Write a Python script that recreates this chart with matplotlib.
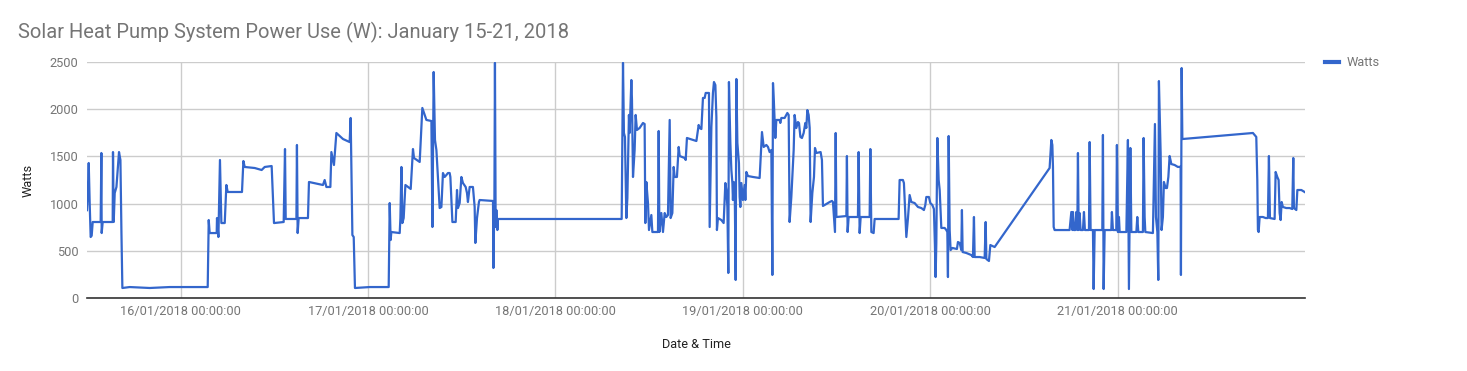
import pandas as pd
import matplotlib
matplotlib.use('Agg')
import matplotlib.pyplot as plt
import matplotlib.dates as mdates
from matplotlib.lines import Line2D

plt.rcParams['font.family'] = ['Roboto', 'DejaVu Sans']

# readings: hours after 15/01/2018 00:00 and power in watts
# 15/01 12:00 -> 17/01 02:40
day1_hours = [12.00, 12.09, 12.22, 12.35, 12.47, 12.60, 12.73, 13.75, 13.84, 13.88,
              14.01, 15.29, 15.33, 15.42, 15.55, 15.77, 16.10, 16.28, 16.41, 16.53,
              17.47, 20.03, 22.59, 26.43, 27.46, 27.59, 27.71, 28.61, 28.65, 28.83,
              29.03, 29.21, 29.64, 29.85, 30.02, 31.85, 32.03, 32.20, 33.48, 34.37,
              34.76, 35.65, 35.95, 37.19, 37.36, 37.45, 38.82, 38.89, 38.98, 39.11,
              40.30, 40.43, 42.22, 42.44, 42.66, 43.17, 43.30, 43.63, 43.94, 44.36,
              44.79, 45.64, 45.77, 45.99, 46.16, 46.32, 48.21, 50.64]
day1_watts = [930, 1090, 1430, 985, 646, 660, 805, 805, 1536, 688,
              805, 805, 1546, 805, 1112, 1176, 1546, 1462, 699, 106,
              116, 106, 116, 116, 116, 826, 688, 688, 847, 646,
              1462, 794, 794, 1197, 1123, 1123, 1451, 1388, 1377, 1356,
              1388, 1398, 794, 805, 1578, 837, 837, 1621, 688, 847,
              847, 1229, 1197, 1250, 1176, 1176, 1546, 1409, 1748, 1716,
              1684, 1652, 1907, 667, 646, 106, 116, 116]

# 17/01 -> 18/01 08:30
day2_hours = [50.77, 50.89, 50.98, 52.05, 52.14, 52.27, 52.39, 52.56, 52.78, 53.11,
              53.46, 53.75, 53.88, 54.61, 54.95, 55.25, 55.47, 56.11, 56.24, 56.40,
              56.57, 56.75, 57.17, 57.39, 57.59, 57.81, 58.03, 58.23, 58.45, 58.54,
              58.80, 59.22, 59.39, 59.51, 59.73, 59.95, 60.15, 60.50, 60.67, 60.79,
              61.01, 61.43, 61.65, 61.74, 61.95, 62.20, 62.29, 64.00, 64.05, 64.18,
              64.25, 64.34, 64.43, 64.56, 64.64, 80.48]
day2_watts = [1006, 614, 699, 688, 847, 1388, 794, 847, 1197, 1176,
              1155, 1578, 1483, 1441, 2013, 1939, 1886, 1875, 752, 2394,
              1674, 1568, 953, 964, 1324, 1282, 1303, 1324, 1324, 1282,
              805, 805, 1144, 953, 1006, 1282, 1218, 1176, 1112, 1017,
              1176, 1176, 964, 583, 847, 1017, 1038, 1028, 318, 1038,
              2490, 752, 932, 720, 837, 837]

# 18/01 08:30 -> 19/01 20:00
day3_hours = [80.52, 80.65, 80.77, 80.90, 81.08, 81.21, 81.41, 81.50, 81.72, 81.80,
              81.93, 82.14, 82.27, 82.44, 82.78, 83.21, 83.42, 83.51, 83.64, 83.85,
              83.98, 84.28, 84.41, 85.13, 85.22, 85.31, 85.56, 85.77, 85.99, 86.20,
              86.41, 86.63, 86.75, 86.97, 87.14, 87.27, 87.56, 87.78, 87.91, 88.55,
              88.68, 88.84, 90.05, 90.34, 90.47, 90.69, 90.89, 91.11, 91.24, 91.66,
              91.75, 91.97, 92.17, 92.30, 92.48, 92.61, 92.68, 92.81, 93.25, 93.54,
              93.76, 93.89, 94.02, 94.14, 94.22, 94.40, 94.53, 94.66, 94.73, 94.82,
              94.95, 95.08, 95.17, 95.30, 95.50, 95.59, 95.68, 95.81, 96.01, 96.23,
              96.32, 96.45, 96.65, 97.30, 98.15, 98.45, 98.67, 99.01, 99.22, 99.43,
              99.65, 99.78, 99.86, 99.98, 100.16, 100.29, 100.71, 100.80, 100.93, 101.35,
              101.70, 101.87, 101.99, 102.21, 102.51, 102.63, 102.85, 103.06, 103.19, 103.37,
              103.57, 103.79, 104.00, 104.13, 104.26, 104.43, 104.56, 104.68, 104.90, 105.11,
              105.24, 105.41, 105.96, 106.13, 106.26, 106.48, 106.70, 107.12, 107.41, 107.54,
              107.67, 107.80, 107.89, 107.98, 109.26, 109.33, 109.42, 109.55, 110.74, 110.83,
              110.96, 111.09, 112.24, 112.33, 112.46, 112.75, 112.88, 115.95]
day3_watts = [1229, 2490, 1748, 1706, 847, 1059, 1939, 1748, 2309, 2097,
              1282, 1568, 1939, 1780, 1801, 1854, 1843, 794, 1229, 1006,
              720, 879, 699, 699, 1769, 699, 900, 699, 900, 858,
              879, 1886, 847, 900, 1388, 1282, 1282, 1600, 1504, 1483,
              1462, 1695, 1663, 1833, 1801, 1790, 2119, 2119, 2172, 2172,
              752, 1811, 2172, 2288, 2256, 1917, 720, 847, 826, 794,
              1218, 1144, 964, 265, 2288, 1642, 1356, 1218, 1038, 1229,
              1218, 191, 2320, 1642, 1430, 1070, 964, 1218, 1038, 1197,
              1038, 1335, 1292, 1282, 1271, 1758, 1600, 1621, 1600, 1546,
              1568, 244, 2277, 2066, 1695, 1886, 1886, 1854, 1907, 1907,
              1960, 1939, 805, 1070, 1568, 1939, 1801, 1864, 1854, 1706,
              1695, 1748, 1854, 1801, 1991, 1939, 1801, 805, 1112, 1282,
              1589, 1536, 1546, 1462, 975, 985, 996, 1017, 1028, 1017,
              858, 699, 1748, 858, 868, 1504, 699, 858, 858, 1546,
              688, 858, 858, 1578, 699, 688, 837, 837]

# 19/01 20:00 -> 20/01 08:15
day4_hours = [116.08, 116.50, 116.63, 116.81, 116.94, 117.15, 117.36, 117.58, 118.00, 118.22,
              118.43, 118.86, 119.19, 119.37, 119.50, 119.83, 120.01, 120.27, 120.47, 120.60,
              120.69, 120.78, 120.91, 121.08, 121.21, 121.42, 121.85, 122.06, 122.19, 122.27,
              122.36, 122.49, 122.61, 122.83, 123.42, 123.55, 123.77, 123.98, 124.06, 124.15,
              124.62, 125.26, 125.47, 125.60, 125.69, 126.33, 126.97, 127.10, 127.19, 127.52,
              127.70, 128.25]
day4_watts = [1250, 1250, 1218, 900, 646, 847, 1091, 1017, 1006, 985,
              964, 953, 932, 985, 1070, 1070, 1006, 985, 943, 561,
              222, 583, 1695, 1250, 1144, 742, 742, 720, 699, 222,
              1716, 720, 508, 530, 519, 593, 583, 508, 932, 487,
              477, 455, 434, 858, 434, 434, 424, 805, 413, 392,
              561, 540]

# 20/01 15:15 -> 21/01 08:20
day5_hours = [135.29, 135.51, 135.64, 135.72, 135.81, 135.93, 137.85, 138.07, 138.20, 138.28,
              138.40, 138.58, 138.71, 138.84, 138.92, 139.01, 139.13, 139.26, 139.56, 139.69,
              139.81, 140.33, 140.42, 140.54, 140.84, 140.93, 141.06, 142.04, 142.12, 142.21,
              142.34, 143.19, 143.27, 143.40, 143.83, 143.91, 144.04, 144.17, 144.26, 145.12,
              145.32, 145.45, 145.63, 145.76, 146.40, 146.52, 146.65, 147.24, 147.33, 147.46,
              147.55, 148.52, 148.78, 148.91, 149.09, 149.21, 149.29, 149.51, 149.63, 149.80,
              149.93, 150.15, 150.32, 150.50, 150.66, 150.88, 151.30, 151.72, 152.07, 152.11,
              152.20, 152.29]
day5_watts = [1377, 1674, 1621, 1388, 752, 720, 720, 911, 720, 911,
              720, 720, 911, 720, 1536, 720, 900, 720, 720, 911,
              720, 720, 1652, 720, 720, 95, 720, 720, 1727, 95,
              720, 720, 911, 720, 720, 1621, 699, 858, 699, 699,
              1674, 95, 1589, 699, 699, 858, 699, 699, 1695, 858,
              699, 688, 1843, 858, 699, 191, 2298, 1536, 720, 858,
              1229, 1165, 1165, 1282, 1504, 1419, 1409, 1388, 1391, 244,
              2436, 1684]

# 21/01 17:20 -> 22/01 00:00
day6_hours = [161.33, 161.55, 161.76, 161.89, 161.97, 162.06, 162.19, 162.61, 162.96, 163.25,
              163.38, 163.51, 164.11, 164.24, 164.45, 164.62, 164.75, 164.88, 165.01, 165.17,
              165.60, 166.03, 166.37, 166.50, 166.58, 166.89, 167.02, 167.53, 167.95]
day6_watts = [1748, 1727, 1706, 1250, 720, 699, 858, 858, 847, 847,
              1504, 847, 837, 1335, 1282, 1250, 900, 826, 1017, 964,
              953, 953, 943, 1483, 953, 932, 1144, 1144, 1123]

tick_days = ['2018-01-16', '2018-01-17', '2018-01-18', '2018-01-19', '2018-01-20', '2018-01-21']

hours = day1_hours + day2_hours + day3_hours + day4_hours + day5_hours + day6_hours
watts = day1_watts + day2_watts + day3_watts + day4_watts + day5_watts + day6_watts

start = pd.Timestamp('2018-01-15')
times = start + pd.to_timedelta(hours, unit='h')

W, H = 1467, 371
fig = plt.figure(figsize=(W / 100, H / 100), dpi=100)
ax = fig.add_axes([87 / W, 1 - 298 / H, (1305 - 87) / W, (298 - 62) / H])

ax.plot(times, watts, color='#3366cc', lw=1.6, zorder=3)

ax.set_xlim(start + pd.Timedelta(hours=12), start + pd.Timedelta(hours=168))
ax.set_ylim(0, 2500)
ax.set_yticks(range(0, 2501, 500))
ax.set_xticks(pd.to_datetime(tick_days))
ax.xaxis.set_major_formatter(mdates.DateFormatter('%d/%m/%Y %H:%M:%S'))

ax.grid(color='#cccccc', lw=1)
ax.set_axisbelow(True)
for s in ['left', 'right', 'top']:
    ax.spines[s].set_visible(False)
ax.spines['bottom'].set_color('#333333')
ax.spines['bottom'].set_linewidth(1.2)
ax.spines['bottom'].set_zorder(4)
ax.tick_params(length=0, labelsize=9.2, colors='#757575')
ax.tick_params(axis='y', pad=6)
ax.tick_params(axis='x', pad=5)

fig.text(18 / W, 1 - 32 / H, 'Solar Heat Pump System Power Use (W): January 15-21, 2018',
         fontsize=14.5, color='#757575', va='center', ha='left')
fig.text(28 / W, 1 - 180 / H, 'Watts', rotation=90, fontsize=9.2, color='#222222',
         va='center', ha='center')
fig.text(696 / W, 1 - 344 / H, 'Date & Time', fontsize=9.2, color='#222222',
         va='center', ha='center')

handle = Line2D([], [], color='#3366cc', lw=3)
fig.legend([handle], ['Watts'], loc='center left', bbox_to_anchor=(1325 / W, 1 - 63 / H),
           frameon=False, handlelength=1.1, handletextpad=0.6, fontsize=9.2,
           labelcolor='#757575', borderaxespad=0, borderpad=0)

fig.savefig('out.png', dpi=100)
